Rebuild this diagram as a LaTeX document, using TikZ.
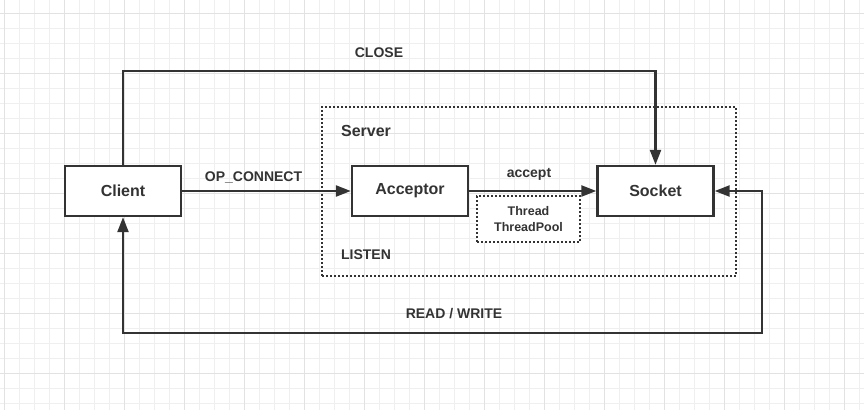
\documentclass[tikz,border=0pt]{standalone}
\usepackage{fontspec}
\setmainfont{Liberation Sans}
\usetikzlibrary{arrows.meta}
\definecolor{ink}{HTML}{333333}
\definecolor{gridminor}{HTML}{EFEFEF}
\definecolor{gridmajor}{HTML}{E2E2E2}
\tikzset{
    box/.style={draw=ink, line width=2.4pt, fill=white, minimum width=116pt, minimum height=50pt, inner sep=0pt,
        text=ink, font=\fontsize{16}{18}\selectfont\bfseries},
    label/.style={text=ink, inner sep=0pt, font=\fontsize{14}{16}\selectfont\bfseries},
    area/.style={draw=ink, line width=2pt, dotted, inner sep=0pt},
    link/.style={draw=ink, line width=2.4pt, -{Triangle[length=15pt,width=11pt]}},
}
\begin{document}
\begin{tikzpicture}[x=1pt, y=-1pt]
        \useasboundingbox (0,0) rectangle (864,410);
        % grid paper
        \foreach \x in {4,19,...,864} \draw[gridminor, line width=1pt] (\x,0) -- (\x,410);
        \foreach \y in {13,28,...,410} \draw[gridminor, line width=1pt] (0,\y) -- (864,\y);
        \foreach \x in {4,64,...,864} \draw[gridmajor, line width=1pt] (\x,0) -- (\x,410);
        \foreach \y in {13,73,...,410} \draw[gridmajor, line width=1pt] (0,\y) -- (864,\y);
        % server area
        \node[area, minimum width=414pt, minimum height=169pt] (server) at (529,191.5) {};
        \node[label, font=\fontsize{16}{18}\selectfont\bfseries] (servername) at (366,131) {Server};
        \node[label] (listen) at (366,255) {LISTEN};
        % boxes
        \node[box] (client) at (123,191) {Client};
        \node[box] (acceptor) at (410,191) {Acceptor};
        \node[box] (socket) at (655.5,191) {Socket};
        \node[area, fill=white, minimum width=103pt, minimum height=46pt, text=ink, align=center,
            font=\fontsize{12.5}{16}\selectfont\bfseries] (pool) at (528.5,219) {Thread\\ThreadPool};
        % connections
        \coordinate (rwcorner) at (762,333);
        \draw[link] (client) -- (acceptor);
        \node[label] (opconnect) at (253.5,177) {OP\_CONNECT};
        \draw[link] (acceptor) -- (socket);
        \node[label] (accept) at (529,174) {accept};
        \draw[link] (client.north) -- ++(0,-94) coordinate (closecorner) -| (socket.north);
        \node[label] (close) at (379,53) {CLOSE};
        \draw[link, {Triangle[length=15pt,width=11pt]}-{Triangle[length=15pt,width=11pt]}] (socket.east) -| (rwcorner) -| (client.south);
        \node[label] (readwrite) at (454,314) {READ / WRITE};
\end{tikzpicture}
\end{document}
